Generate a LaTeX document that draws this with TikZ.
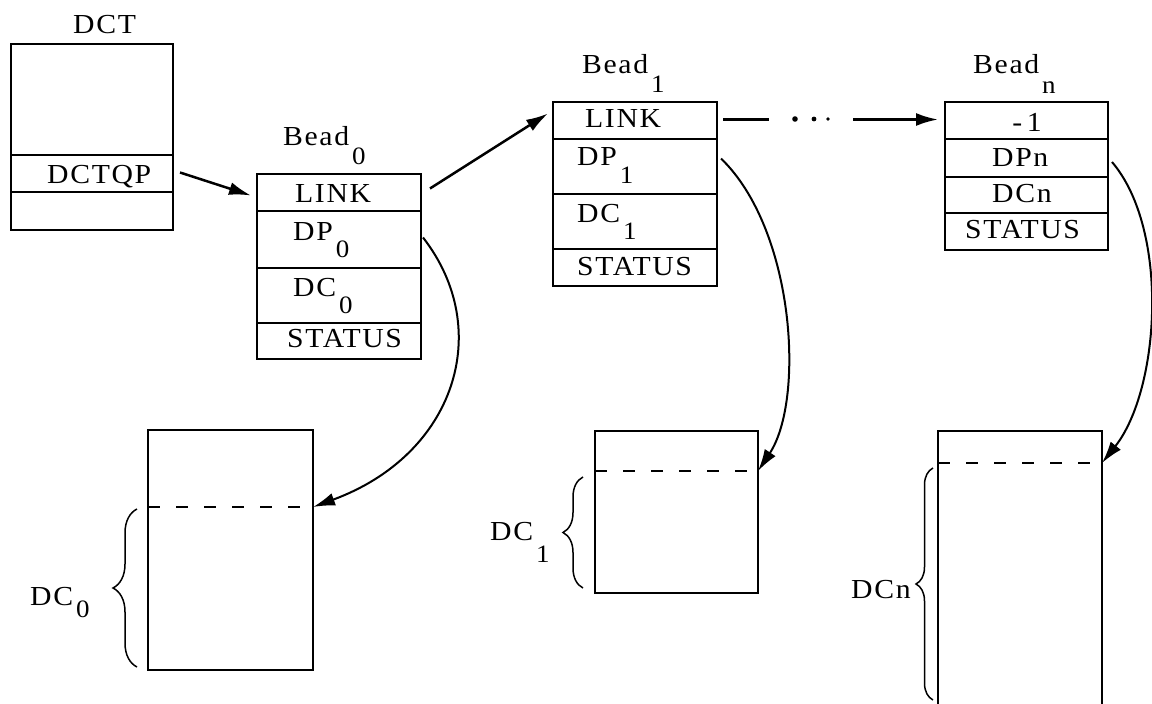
\documentclass[tikz,border=0pt]{standalone}
\usepackage{fontspec}
\setmainfont{Liberation Serif}[LetterSpace=6,FakeStretch=1.08]
\usetikzlibrary{arrows.meta,decorations.pathreplacing,calc}

% lowered, slightly smaller index as typed on the original form
\newcommand{\lowsub}[2]{\hspace{3pt}\raisebox{-#1}{\fontsize{25}{25}\selectfont #2}}

\begin{document}
\begin{tikzpicture}[x=1pt,y=-1pt,
  field/.style={draw, line width=1.6pt, anchor=north west, inner sep=0pt, outer sep=0pt},
  lbl/.style={anchor=base west, inner sep=0pt, font=\fontsize{27.5}{30}\selectfont},
  ptr/.style={line width=2.5pt, -{Latex[length=22pt,width=13pt]}},
  dsh/.style={line width=1.8pt, dash pattern=on 12pt off 16pt},
  brc/.style={decorate, line width=1.5pt},
]
\useasboundingbox (0,0) rectangle (1152,704);

% ---------- DCT ----------
\node[field, minimum width=162pt, minimum height=111pt] (dcttop) at (11,44) {};
\node[field, minimum width=162pt, minimum height=37pt] (dctqp) at (11,155) {};
\node[field, minimum width=162pt, minimum height=38pt] (dctlow) at (11,192) {};
\node[lbl] (tdct) at (73,33) {DCT};
\node[lbl] (tdctqp) at (47,183) {DCTQP};

% ---------- Bead 0 ----------
\node[field, minimum width=164pt, minimum height=37pt] (b0link) at (257,174) {};
\node[field, minimum width=164pt, minimum height=57pt] (b0dp) at (257,211) {};
\node[field, minimum width=164pt, minimum height=55pt] (b0dc) at (257,268) {};
\node[field, minimum width=164pt, minimum height=36pt] (b0st) at (257,323) {};
\node[lbl] (tb0) at (283,145) {Bead\lowsub{19pt}{0}};
\node[lbl] (tb0link) at (295,202) {LINK};
\node[lbl] (tb0dp) at (293,240) {DP\lowsub{17pt}{0}};
\node[lbl] (tb0dc) at (293,296) {DC\lowsub{17pt}{0}};
\node[lbl] (tb0st) at (287,347) {STATUS};

% ---------- Bead 1 ----------
\node[field, minimum width=164pt, minimum height=37pt] (b1link) at (553,102) {};
\node[field, minimum width=164pt, minimum height=55pt] (b1dp) at (553,139) {};
\node[field, minimum width=164pt, minimum height=55pt] (b1dc) at (553,194) {};
\node[field, minimum width=164pt, minimum height=37pt] (b1st) at (553,249) {};
\node[lbl] (tb1) at (582,73) {Bead\lowsub{19pt}{1}};
\node[lbl] (tb1link) at (585,127) {LINK};
\node[lbl] (tb1dp) at (577,165) {DP\lowsub{18pt}{1}};
\node[lbl] (tb1dc) at (577,222) {DC\lowsub{17pt}{1}};
\node[lbl] (tb1st) at (577,275) {STATUS};

% ---------- Bead n ----------
\node[field, minimum width=163pt, minimum height=37pt] (bnlink) at (945,102) {};
\node[field, minimum width=163pt, minimum height=38pt] (bndp) at (945,139) {};
\node[field, minimum width=163pt, minimum height=36pt] (bndc) at (945,177) {};
\node[field, minimum width=163pt, minimum height=37pt] (bnst) at (945,213) {};
\node[lbl] (tbn) at (973,73) {Bead\lowsub{20pt}{n}};
\node[lbl, anchor=base] (tbnlink) at (1027,131) {-\,1};
\node[lbl] (tbndp) at (992,166) {DPn};
\node[lbl] (tbndc) at (992,202) {DCn};
\node[lbl] (tbnst) at (965,238) {STATUS};

% ---------- data areas ----------
\node[field, line width=1.9pt, minimum width=165pt, minimum height=240pt] (box0) at (148,430) {};
\node[field, line width=1.9pt, minimum width=163pt, minimum height=162pt] (box1) at (595,431) {};
\node[field, draw=none, minimum width=164pt, minimum height=276pt] (boxn) at (938,431) {};
\draw[line width=1.9pt] (boxn.south west) -- (boxn.north west) -- (boxn.north east) -- (boxn.south east);

\coordinate (d0) at ($(box0.north east)+(0,77)$);
\coordinate (d1) at ($(box1.north east)+(0,40)$);
\coordinate (dn) at ($(boxn.north east)+(0,32)$);
\draw[dsh] ($(box0.north west)+(0,77)$) -- (d0);
\draw[dsh] ($(box1.north west)+(0,40)$) -- (d1);
\draw[dsh] ($(boxn.north west)+(0,32)$) -- (dn);

% braces marking the current data count
\draw[brc, decoration={brace, amplitude=24pt}] (137,667) -- (137,509);
\draw[brc, decoration={brace, amplitude=20pt}] (583,588) -- (583,477);
\draw[brc, decoration={brace, amplitude=17pt}] (933,700) -- (933,468);
\node[lbl] (tdc0) at (30,605) {DC\lowsub{12pt}{0}};
\node[lbl] (tdc1) at (490,540) {DC\lowsub{22pt}{1}};
\node[lbl] (tdcn) at (851,598) {DCn};

% ---------- pointers ----------
\draw[ptr] ($(dctqp.east)+(7,-1)$) -- ($(b0link.west)+(-6,3)$);
\draw[ptr] ($(b0link.east)+(9,-4)$) -- ($(b1link.west)+(-5,-7)$);
\draw[line width=2.5pt] ($(b1link.east)+(6,-1)$) -- ++(46,0);
\fill (795,119) circle (2.8pt);
\fill (814,119) circle (2.4pt);
\fill (828,119) circle (1.9pt);
\draw[ptr] ($(bnlink.west)+(-92,-1)$) -- ($(bnlink.west)+(-7,-1)$);

\draw[ptr, line width=2pt] ($(b0dp.east)+(2,-2)$) .. controls (495,330) and (455,455) .. (d0);
\draw[ptr, line width=2pt] ($(b1dp.east)+(4,-8)$) .. controls (795,230) and (805,400) .. (d1);
\draw[ptr, line width=2pt] ($(bndp.east)+(4,4)$) .. controls (1170,230) and (1160,390) .. (dn);
\end{tikzpicture}
\end{document}
